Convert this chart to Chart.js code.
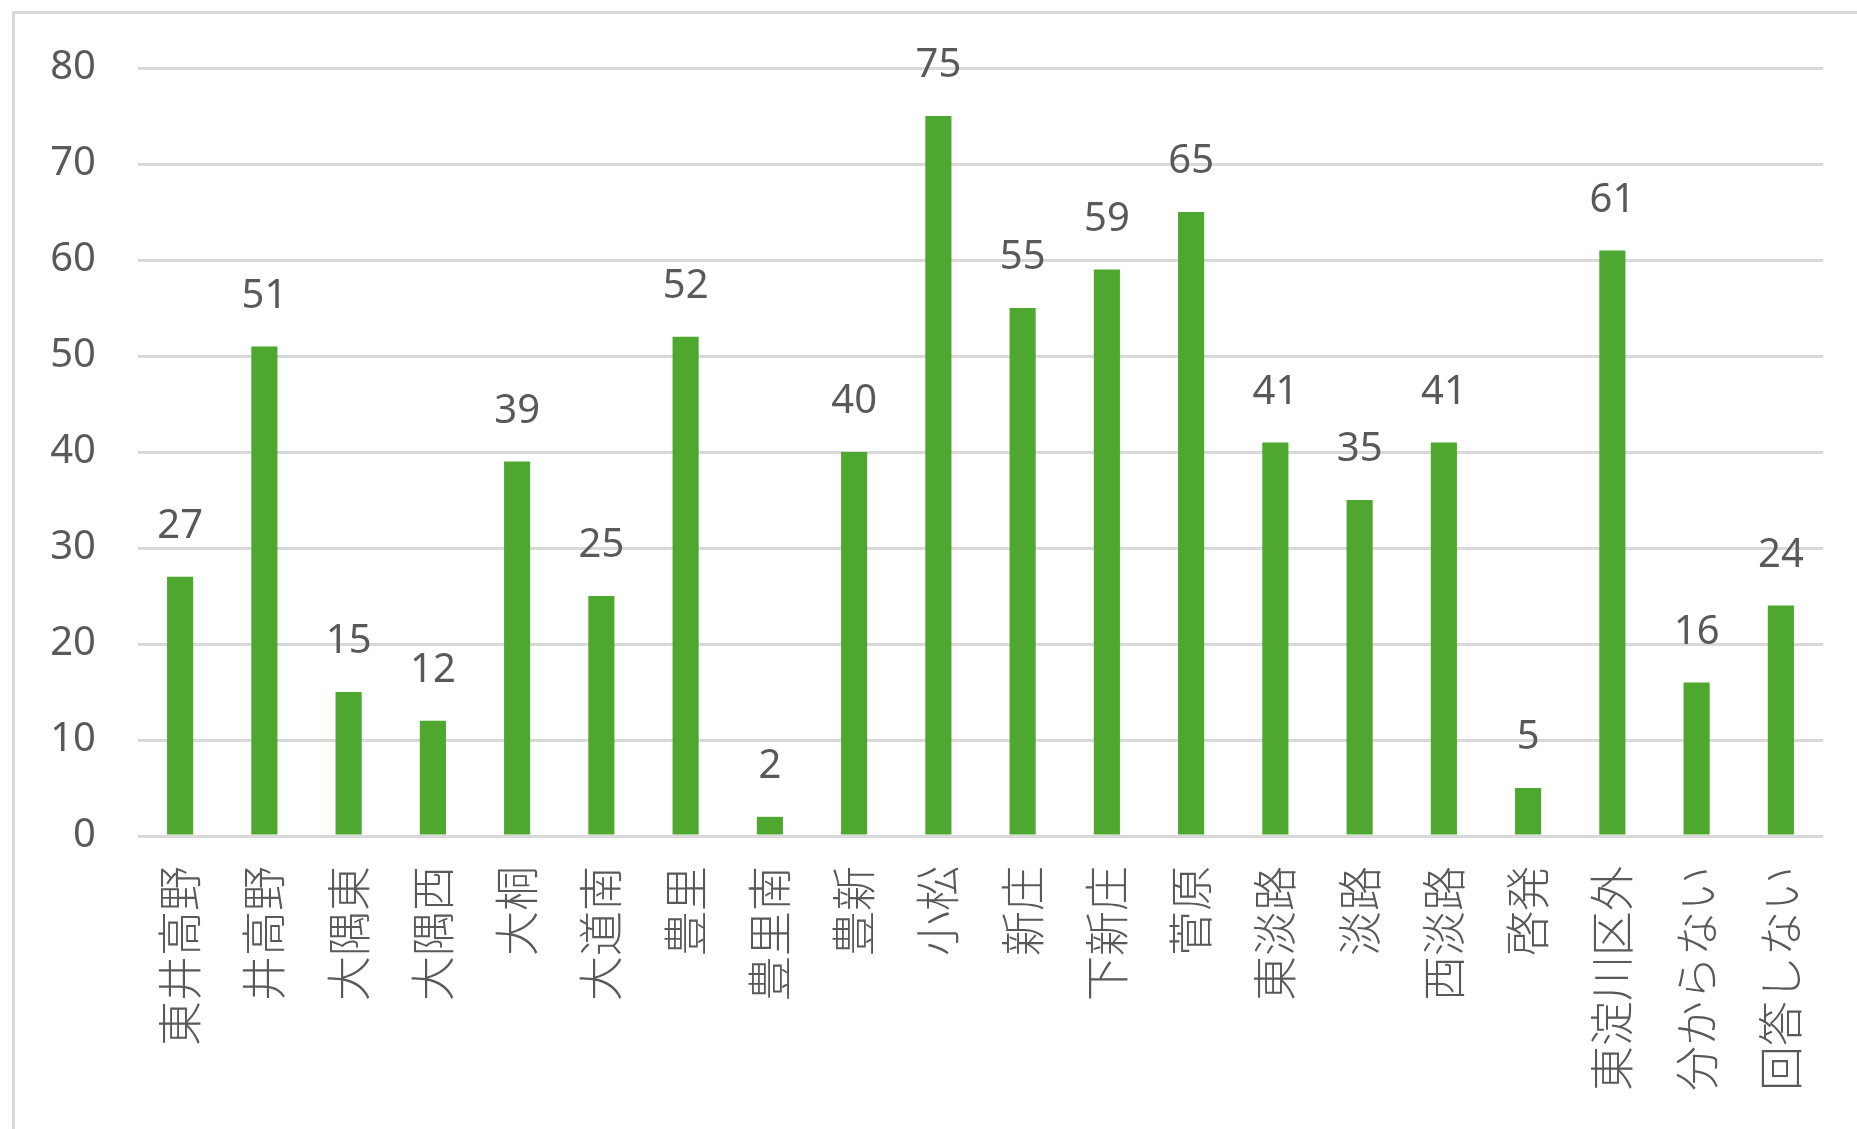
<!DOCTYPE html>
<html lang="ja">
<head>
    <meta charset="UTF-8">
    <title>地区別</title>
    <script src="https://cdn.jsdelivr.net/npm/chart.js"></script>
    <style>
        html, body { margin: 0; padding: 0; background: #fff; }
        #wrap { position: relative; width: 1857px; height: 1129px; }
    </style>
</head>
<body>
    <div id="wrap">
        <canvas id="myChart" width="1857" height="1129"></canvas>
    </div>

    <script>
        const categories = ['東井高野', '井高野', '大隅東', '大隅西', '大桐', '大道南', '豊里', '豊里南', '豊新', '小松',
            '新庄', '下新庄', '菅原', '東淡路', '淡路', '西淡路', '啓発', '東淀川区外', '分からない', '回答しない'];
        const counts = [27, 51, 15, 12, 39, 25, 52, 2, 40, 75, 55, 59, 65, 41, 35, 41, 5, 61, 16, 24];
        const yTicks = [0, 10, 20, 30, 40, 50, 60, 70, 80];

        const textColor = '#595959';
        const numFont = '"Noto Sans", "Liberation Sans", sans-serif';
        const jpFont = '"Noto Sans CJK JP", sans-serif';

        // fond blanc + cadre gris (haut et gauche seulement visibles)
        const framePlugin = {
            id: 'frame',
            beforeDraw(chart) {
                const ctx = chart.ctx;
                ctx.save();
                ctx.fillStyle = '#fff';
                ctx.fillRect(0, 0, chart.width, chart.height);
                ctx.strokeStyle = '#d9d9d9';
                ctx.lineWidth = 3;
                ctx.beginPath();
                ctx.moveTo(13.5, chart.height + 5);
                ctx.lineTo(13.5, 12.5);
                ctx.lineTo(chart.width + 5, 12.5);
                ctx.stroke();
                ctx.restore();
            }
        };

        // étiquettes de valeur au-dessus des barres
        const valueLabels = {
            id: 'valueLabels',
            afterDatasetsDraw(chart) {
                const ctx = chart.ctx;
                const meta = chart.getDatasetMeta(0);
                ctx.save();
                ctx.fillStyle = textColor;
                ctx.font = '40px ' + numFont;
                ctx.textAlign = 'center';
                ctx.textBaseline = 'middle';
                meta.data.forEach((bar, i) => {
                    ctx.fillText(String(counts[i]), bar.x, bar.y - 50);
                });
                ctx.restore();
            }
        };

        const ctx = document.getElementById('myChart').getContext('2d');
        const myChart = new Chart(ctx, {
            type: 'bar',
            data: {
                labels: categories,
                datasets: [{
                    data: counts,
                    backgroundColor: '#4ea72e',
                    borderWidth: 0,
                    barPercentage: 0.31,
                    categoryPercentage: 1
                }]
            },
            options: {
                responsive: false,
                animation: false,
                events: [],
                layout: { padding: { top: 68, right: 34, bottom: 0, left: 0 } },
                plugins: {
                    legend: { display: false },
                    tooltip: { enabled: false }
                },
                scales: {
                    x: {
                        grid: { display: false, drawTicks: false },
                        border: { display: false },
                        ticks: {
                            autoSkip: false,
                            minRotation: 90,
                            maxRotation: 90,
                            padding: 30,
                            color: textColor,
                            font: { family: jpFont, size: 45, weight: 300 }
                        },
                        afterFit(scale) {
                            scale.height = 293;
                            scale.paddingLeft = 0;
                            scale.paddingRight = 0;
                        }
                    },
                    y: {
                        min: 0,
                        max: 80,
                        afterBuildTicks(scale) { scale.ticks = yTicks.map(v => ({ value: v })); },
                        grid: { color: '#d9d9d9', lineWidth: 3, drawTicks: false },
                        border: { display: false },
                        ticks: {
                            padding: 42,
                            color: textColor,
                            font: { family: numFont, size: 40 }
                        },
                        afterFit(scale) { scale.width = 138; }
                    }
                }
            },
            plugins: [framePlugin, valueLabels]
        });
    </script>
</body>
</html>
